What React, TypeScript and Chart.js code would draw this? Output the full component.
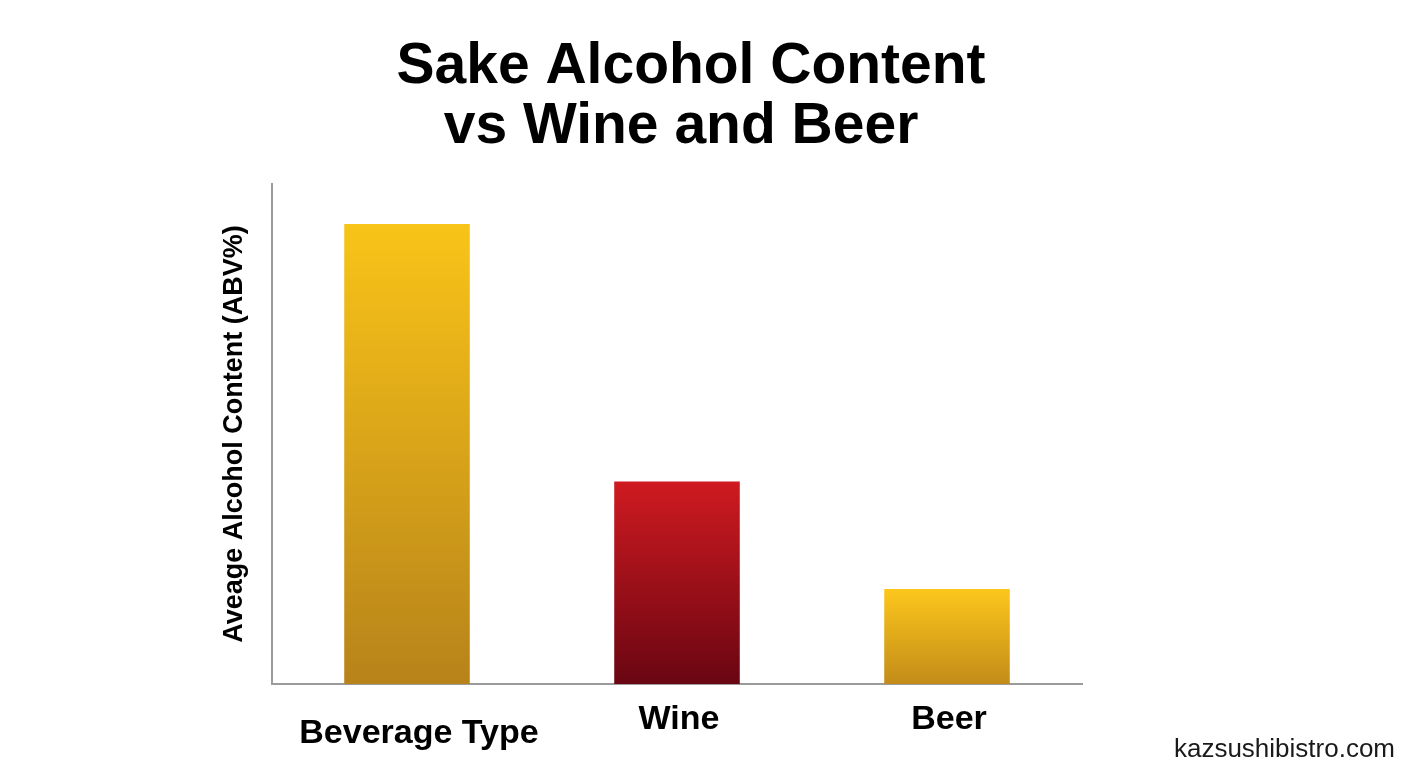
import { useEffect, useRef } from "react";
import Chart from "chart.js/auto";

const tickLabels = ["Beverage Type", "Wine", "Beer"];
const abvValues = [15.0, 6.6, 3.1];
const axisMax = 16.3;
// top colour / bottom colour of each bar's gradient
const barTopColors = ["#f9c418", "#cf1a20", "#fcc71c"];
const barBottomColors = ["#b7831a", "#690612", "#c38c19"];

const titleLines = ["Sake Alcohol Content", "vs Wine and Beer"];
const yTitle = "Aveage Alcohol Content (ABV%)";
const watermark = "kazsushibistro.com";

const FONT = "'Liberation Sans', Arial, Helvetica, sans-serif";

const textPlugin = {
  id: "extraText",
  afterDraw(chart: any) {
    const { ctx, scales } = chart;
    const xs = scales.x;
    ctx.save();
    ctx.fillStyle = "#000";
    ctx.textBaseline = "alphabetic";
    ctx.textAlign = "center";

    // heading
    ctx.font = `bold 57px ${FONT}`;
    ctx.fillText(titleLines[0], 691, 83);
    ctx.fillText(titleLines[1], 681, 143);

    // category labels under the axis
    ctx.font = `bold 34px ${FONT}`;
    tickLabels.forEach((label, i) => {
      const x = xs.getPixelForValue(i);
      if (i === 0) ctx.fillText(label, x + 12, 743);
      else ctx.fillText(label, x + 2, 729);
    });

    // site mark
    ctx.font = `26px ${FONT}`;
    ctx.fillStyle = "#1a1a1a";
    ctx.textAlign = "right";
    ctx.fillText(watermark, 1395, 757);
    ctx.restore();
  },
};

export default function App() {
  const canvasRef = useRef<HTMLCanvasElement>(null);

  useEffect(() => {
    const ctx = canvasRef.current?.getContext("2d");
    if (!ctx) return;

    const chart = new Chart(ctx, {
      type: "bar",
      data: {
        labels: tickLabels,
        datasets: [
          {
            label: "ABV",
            data: abvValues,
            backgroundColor: (c: any) => {
              const ch = c.chart;
              const i = c.dataIndex;
              const y = ch.scales?.y;
              if (!ch.chartArea || !y || i === undefined) return barTopColors[i ?? 0];
              const top = y.getPixelForValue(abvValues[i]);
              const bottom = y.getPixelForValue(0);
              const g = ch.ctx.createLinearGradient(0, top, 0, bottom);
              g.addColorStop(0, barTopColors[i]);
              g.addColorStop(1, barBottomColors[i]);
              return g;
            },
            borderWidth: 0,
            barPercentage: 0.465,
            categoryPercentage: 1,
          },
        ],
      },
      options: {
        animation: false,
        responsive: true,
        maintainAspectRatio: false,
        layout: { padding: { left: 202, right: 326, top: 184, bottom: 84 } },
        plugins: {
          legend: { display: false },
          tooltip: { enabled: false },
          title: { display: false },
        },
        scales: {
          x: {
            grid: { display: false },
            ticks: { display: false },
            border: { display: true, color: "#9b9b9b", width: 2 },
            afterFit: (s: any) => {
              s.height = 0;
            },
          },
          y: {
            min: 0,
            max: axisMax,
            grid: { display: false },
            ticks: { display: false },
            border: { display: true, color: "#9b9b9b", width: 2 },
            title: {
              display: true,
              text: yTitle,
              color: "#000",
              font: { family: FONT, size: 27, weight: "bold" },
              padding: { top: 16, bottom: 0 },
            },
            afterFit: (s: any) => {
              s.width = 70;
            },
          },
        },
      },
      plugins: [textPlugin],
    });

    return () => {
      chart.destroy();
    };
  }, []);

  return (
    <div
      style={{
        position: "absolute",
        left: 0,
        top: 0,
        width: 1408,
        height: 768,
        background: "#fff",
      }}
    >
      <canvas ref={canvasRef} />
    </div>
  );
}
